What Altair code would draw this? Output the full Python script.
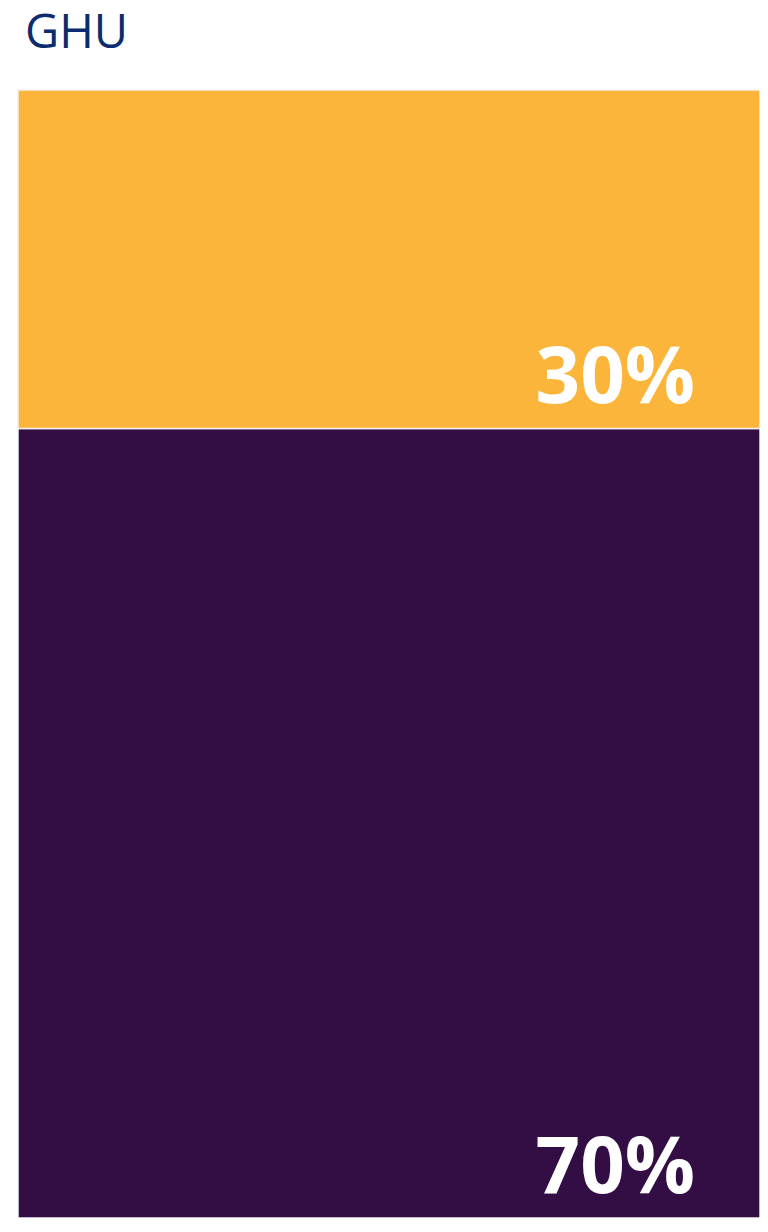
import altair as alt
import pandas as pd

categories = ["GHU", "GHU"]
segments = ["Share B", "Share A"]
values = [70, 30]
labels = ["70%", "30%"]
colors = ["#330E45", "#FBB53B"]

df = pd.DataFrame({"cat": categories, "seg": segments, "value": values,
                   "label": labels, "order": [0, 1]})

base = alt.Chart(df).transform_stack(
    stack="value", groupby=["cat"], as_=["y0", "y1"],
    sort=[alt.SortField("order", order="ascending")]
)

yscale = alt.Scale(domain=[0, 100], nice=False, zero=True)

bars = base.mark_rect(stroke="#f3eef0", strokeWidth=1.5).encode(
    y=alt.Y("y0:Q", scale=yscale, axis=None),
    y2="y1:Q",
    color=alt.Color("seg:N", scale=alt.Scale(domain=segments, range=colors), legend=None),
)

text = base.mark_text(
    align="right", baseline="alphabetic", dy=-25,
    font="Open Sans", fontWeight="bold", fontSize=78, color="white"
).encode(
    y=alt.Y("y0:Q", scale=yscale, axis=None),
    x=alt.value({"expr": "width - 65"}),
    text="label:N",
)

chart = alt.layer(bars, text).properties(
    width=742, height=1128,
    title=alt.TitleParams("GHU", anchor="start", frame="group", font="Open Sans",
                          fontSize=47, fontWeight="normal", color="#0B2C6E",
                          offset=31, dx=7),
    autosize=alt.AutoSizeParams(type="none"),
    padding={"left": 10, "top": 82, "right": 0, "bottom": 0},
).configure_view(stroke=None).configure(background="white")

chart.save("out.html", embed_options={"renderer": "svg", "actions": False})
